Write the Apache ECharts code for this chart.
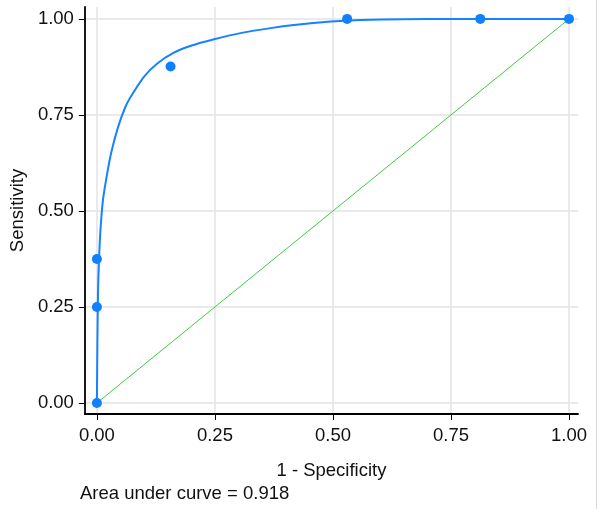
<!DOCTYPE html>
<html>
<head>
<meta charset="utf-8">
<script src="https://cdn.jsdelivr.net/npm/echarts@6/dist/echarts.min.js"></script>
<style>html,body{margin:0;padding:0;background:#fff}#c{width:600px;height:509px}</style>
</head>
<body>
<div id="c"></div>
<script>
// Fitted ROC curve (1 - specificity, sensitivity)
const curveX = [0, 0.001, 0.002, 0.003, 0.005, 0.008, 0.013, 0.020, 0.030, 0.044, 0.060, 0.072, 0.100, 0.128, 0.163, 0.199, 0.248, 0.304, 0.368, 0.417, 0.495, 0.558, 0.65, 0.75, 1.0];
const curveY = [0, 0.15, 0.26, 0.32, 0.39, 0.459, 0.53, 0.585, 0.65, 0.715, 0.77, 0.798, 0.850, 0.884, 0.912, 0.930, 0.947, 0.963, 0.976, 0.984, 0.993, 0.997, 0.999, 1.0, 1.0];
// Empirical points
const pointX = [0, 0, 0, 0.156, 0.530, 0.812, 1.0];
const pointY = [0, 0.25, 0.375, 0.876, 1.0, 1.0, 1.0];
// Reference diagonal
const diagX = [0, 1];
const diagY = [0, 1];
const tickValues = [0, 0.25, 0.5, 0.75, 1.0];
const xTitle = '1 - Specificity';
const yTitle = 'Sensitivity';
const note = 'Area under curve = 0.918';

const zip = (a, b) => a.map((v, i) => [v, b[i]]);
const font = 'Arial, "Liberation Sans", sans-serif';

const chart = echarts.init(document.getElementById('c'), null, {renderer: 'canvas'});
const axisCommon = {
  type: 'value',
  axisLine: {show: true, onZero: false, lineStyle: {color: '#000', width: 1.8}},
  axisTick: {show: true, length: 6, customValues: tickValues, lineStyle: {color: '#000', width: 1}},
  axisLabel: {customValues: tickValues, formatter: v => v.toFixed(2), color: '#111', fontSize: 18.5, fontFamily: font},
  splitLine: {show: true, lineStyle: {color: '#e3e3e3', width: 1.5}},
  nameLocation: 'middle',
  nameTextStyle: {color: '#111', fontSize: 18.5, fontFamily: font}
};
chart.setOption({
  animation: false,
  grid: {left: 84, right: 22, top: 7, bottom: 95, containLabel: false},
  xAxis: Object.assign({}, axisCommon, {min: -0.0254, max: 1.019, name: xTitle, nameGap: 47,
    axisLabel: Object.assign({}, axisCommon.axisLabel, {margin: 12})}),
  yAxis: Object.assign({}, axisCommon, {min: -0.0286, max: 1.031, name: yTitle, nameGap: 55,
    axisLabel: Object.assign({}, axisCommon.axisLabel, {margin: 11})}),
  graphic: [
    {type: 'text', left: 80, top: 484, style: {text: note, fontSize: 18.5, fontFamily: font, fill: '#111'}},
    {type: 'line', shape: {x1: 596.5, y1: 0, x2: 596.5, y2: 509}, style: {stroke: '#d8d8d8', lineWidth: 1}}
  ],
  series: [
    {type: 'line', data: zip(diagX, diagY), showSymbol: false, symbol: 'none',
      lineStyle: {color: '#3ccc3c', width: 1}, z: 2},
    {type: 'line', data: zip(curveX, curveY), showSymbol: false, symbol: 'none', smooth: 0.2,
      lineStyle: {color: '#1483ff', width: 2}, z: 3},
    {type: 'scatter', data: zip(pointX, pointY), symbolSize: 10,
      itemStyle: {color: '#1080ff', opacity: 1}, z: 4}
  ]
});
</script>
</body>
</html>
